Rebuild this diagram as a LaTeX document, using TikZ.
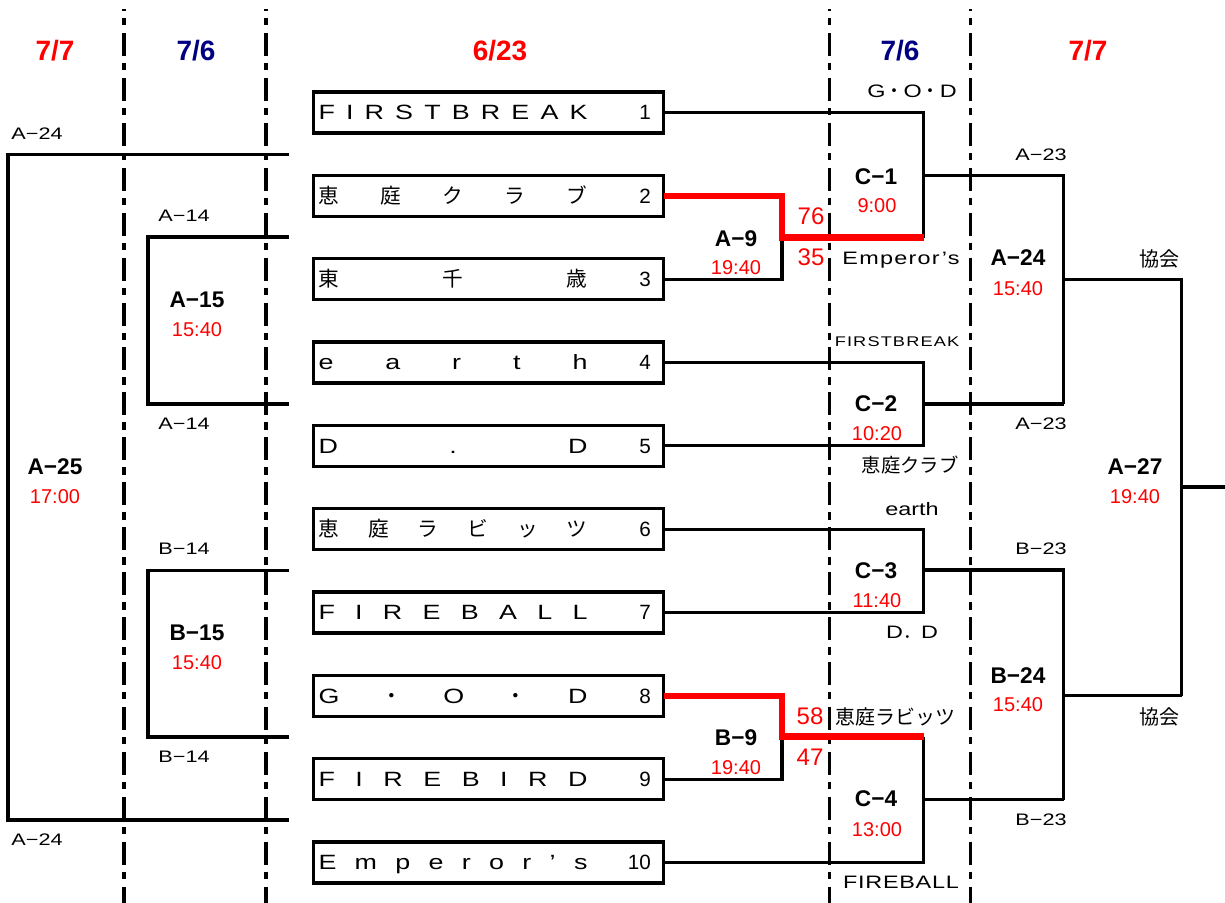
\documentclass[tikz,border=0pt]{standalone}
\usepackage{fontspec}
\setmainfont{Liberation Sans}
\newfontfamily\jp{Noto Sans CJK JP}
\newfontfamily\wide[FakeStretch=1.3]{Liberation Sans}
\definecolor{navyb}{HTML}{000080}
\newcommand\tbox[2]{\hbox to 262.5pt{\hskip3.75pt\hbox to 201.75pt{#1}\hfill #2\hskip9.4pt}}
\tikzset{
 teambox/.style={draw, line width=2.5pt, minimum width=262.5pt, minimum height=30.75pt, inner sep=0pt, outer sep=0pt, text height=11pt, text depth=0pt, font=\fontsize{15.5}{15.5}\selectfont},
 ln/.style={line width=2.4pt},
 win/.style={line width=4.6pt, draw=red},
 sep/.style={line width=2.5pt, dash pattern=on 17.25pt off 5.25pt on 5.6pt off 5.6pt, dash phase=15.75pt},
 hdr/.style={font=\fontsize{21}{21}\selectfont\bfseries, inner sep=0pt, text depth=0pt},
 mname/.style={font=\fontsize{17}{17}\selectfont\bfseries, inner sep=0pt, text depth=0pt},
 mtime/.style={font=\fontsize{15}{15}\selectfont, text=red, inner sep=0pt, text depth=0pt},
 score/.style={font=\fontsize{18}{18}\selectfont, text=red, inner sep=0pt, text depth=0pt},
 slot/.style={font=\fontsize{12.5}{12.5}\selectfont\wide, inner sep=0pt, text depth=0pt},
 tname/.style={font=\fontsize{13.5}{13.5}\selectfont\wide\addfontfeature{LetterSpace=#1}, inner sep=0pt, text depth=0pt},
 tname/.default=0,
 jname/.style={font=\fontsize{#1}{#1}\selectfont\jp, inner sep=0pt, text depth=0pt},
 jname/.default=15,
}
\begin{document}
\begin{tikzpicture}[x=0.75pt,y=-0.75pt]
\useasboundingbox (0,0) rectangle (1225,903);
% separators
\foreach \xx in {124,266,829.5,970.5} \draw[sep] (\xx,9) -- (\xx,903);
% team boxes
\node[teambox] (t1) at (488.5,112.5) {\tbox{\wide F\hfill I\hfill R\hfill S\hfill T\hfill B\hfill R\hfill E\hfill A\hfill K}{1}};
\node[teambox] (t2) at (488.5,195.8) {\tbox{\jp 恵\hfill 庭\hfill ク\hfill ラ\hfill ブ}{2}};
\node[teambox] (t3) at (488.5,279.2) {\tbox{\jp 東\hfill 千\hfill 歳}{3}};
\node[teambox] (t4) at (488.5,362.5) {\tbox{\wide e\hfill a\hfill r\hfill t\hfill h}{4}};
\node[teambox] (t5) at (488.5,445.8) {\tbox{\wide D\hfill .\hfill D}{5}};
\node[teambox] (t6) at (488.5,529.2) {\tbox{\jp 恵\hfill 庭\hfill ラ\hfill ビ\hfill ッ\hfill ツ}{6}};
\node[teambox] (t7) at (488.5,612.5) {\tbox{\wide F\hfill I\hfill R\hfill E\hfill B\hfill A\hfill L\hfill L}{7}};
\node[teambox] (t8) at (488.5,695.8) {\tbox{\wide G\hfill{\jp ・}\hfill O\hfill{\jp ・}\hfill D}{8}};
\node[teambox] (t9) at (488.5,779.2) {\tbox{\wide F\hfill I\hfill R\hfill E\hfill B\hfill I\hfill R\hfill D}{9}};
\node[teambox] (t10) at (488.5,862.5) {\tbox{\wide E\hfill m\hfill p\hfill e\hfill r\hfill o\hfill r\hfill ’\hfill s}{10}};
% junction coordinates
\coordinate (a9) at (782,237.5);
\coordinate (c1b) at (923.5,237.5);
\coordinate (c1o) at (923.5,175.5);
\coordinate (c2o) at (923.5,404);
\coordinate (c3o) at (923.5,570);
\coordinate (b9) at (782,736.5);
\coordinate (c4t) at (923.5,736.5);
\coordinate (c4o) at (923.5,799.5);
\coordinate (a24t) at (1063.5,175.5);
\coordinate (a24b) at (1063.5,404);
\coordinate (a24o) at (1063.5,279.5);
\coordinate (b24t) at (1063.5,570);
\coordinate (b24b) at (1063.5,799.5);
\coordinate (b24o) at (1063.5,695.5);
\coordinate (a27t) at (1181.5,279.5);
\coordinate (a27b) at (1181.5,695.5);
\coordinate (a27o) at (1181.5,487);
\coordinate (a27e) at (1225,487);
\coordinate (a25t) at (288.5,154.5);
\coordinate (a25c) at (8,820);
\coordinate (a25b) at (288.5,820);
\coordinate (a15t) at (288.5,237);
\coordinate (a15c) at (148,404);
\coordinate (a15b) at (288.5,404);
\coordinate (b15t) at (288.5,570.5);
\coordinate (b15c) at (148,737);
\coordinate (b15b) at (288.5,737);
% connectors
\draw[ln] (t1.east) -| (c1b);
\draw[ln] (t3.east) -| (a9);
\draw[ln] (c1o) -- (a24t) -- (a24b);
\draw[ln] (t4.east) -| (c2o) |- (t5.east);
\draw[ln] (c2o) -- (a24b);
\draw[ln] (a24o) -- (a27t) -- (a27b);
\draw[ln] (t6.east) -| (c3o) |- (t7.east);
\draw[ln] (c3o) -- (b24t) -- (b24b);
\draw[ln] (t9.east) -| (b9);
\draw[ln] (c4t) |- (t10.east);
\draw[ln] (c4o) -- (b24b);
\draw[ln] (b24o) -- (a27b);
\draw[ln] (a27o) -- (a27e);
\draw[ln] (a25t) -| (a25c) -- (a25b);
\draw[ln] (a15t) -| (a15c) -- (a15b);
\draw[ln] (b15t) -| (b15c) -- (b15b);
\draw[win] (t2.east) -| (a9) -- (c1b);
\draw[win] (t8.east) -| (b9) -- (c4t);
% headers
\node[hdr,text=red] (h1) at (55,50) {7/7};
\node[hdr,text=navyb] (h2) at (196,50) {7/6};
\node[hdr,text=red] (h3) at (500,50) {6/23};
\node[hdr,text=navyb] (h4) at (900,50) {7/6};
\node[hdr,text=red] (h5) at (1088,50) {7/7};
% slot labels
\node[slot] (s1) at (37,134) {A−24};
\node[slot] (s2) at (37,840) {A−24};
\node[slot] (s3) at (184,216) {A−14};
\node[slot] (s4) at (184,424) {A−14};
\node[slot] (s5) at (184,549) {B−14};
\node[slot] (s6) at (184,757) {B−14};
\node[slot] (s7) at (1041,155) {A−23};
\node[slot] (s8) at (1041,424) {A−23};
\node[slot] (s9) at (1041,549) {B−23};
\node[slot] (s10) at (1041,820) {B−23};
% match names and times
\node[mname] (mA25) at (55,467) {A−25};   \node[mtime] (tA25) at (55,497) {17:00};
\node[mname] (mA15) at (197,300) {A−15};  \node[mtime] (tA15) at (197,330) {15:40};
\node[mname] (mB15) at (197,633) {B−15};  \node[mtime] (tB15) at (197,663) {15:40};
\node[mname] (mA9) at (736,239) {A−9};    \node[mtime] (tA9) at (736,268) {19:40};
\node[mname] (mB9) at (736,738) {B−9};    \node[mtime] (tB9) at (736,768) {19:40};
\node[mname] (mC1) at (876,177) {C−1};    \node[mtime] (tC1) at (877,206) {9:00};
\node[mname] (mC2) at (876,404) {C−2};    \node[mtime] (tC2) at (877,434) {10:20};
\node[mname] (mC3) at (876,571) {C−3};    \node[mtime] (tC3) at (877,601) {11:40};
\node[mname] (mC4) at (876,799) {C−4};    \node[mtime] (tC4) at (877,830) {13:00};
\node[mname] (mA24) at (1018,258) {A−24}; \node[mtime] (tA24) at (1018,289) {15:40};
\node[mname] (mB24) at (1018,676) {B−24}; \node[mtime] (tB24) at (1018,705) {15:40};
\node[mname] (mA27) at (1135,467) {A−27}; \node[mtime] (tA27) at (1135,497) {19:40};
% scores
\node[score] (sc1) at (811,216) {76};
\node[score] (sc2) at (811,257) {35};
\node[score] (sc3) at (810,716) {58};
\node[score] (sc4) at (810,757) {47};
% team name labels
\node[tname] (n1) at (912,91) {G{\jp ・}O{\jp ・}D};
\node[tname=7] (n2) at (901,258) {Emperor’s};
\node[font=\fontsize{10.5}{10.5}\selectfont\wide\addfontfeature{LetterSpace=8}, inner sep=0pt, text depth=0pt] (n3) at (897,342) {FIRSTBREAK};
\node[jname=14.5] (n4) at (910,464) {恵庭クラブ};
\node[tname] (n5) at (912,509) {earth};
\node[tname] (n6) at (912,632) {D{\jp ．}D};
\node[jname] (n7) at (895,716) {恵庭ラビッツ};
\node[tname=4] (n8) at (901,882) {FIREBALL};
\node[jname] (n9) at (1159,258) {協会};
\node[jname] (n10) at (1159,716) {協会};
\end{tikzpicture}
\end{document}
